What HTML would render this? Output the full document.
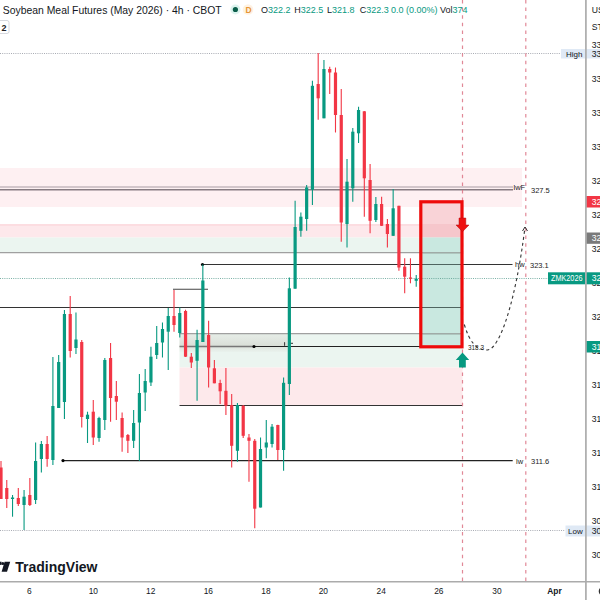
<!DOCTYPE html>
<html><head><meta charset="utf-8"><style>
html,body{margin:0;padding:0;background:#fff;width:600px;height:600px;overflow:hidden}
svg{display:block}
</style></head><body>
<svg width="600" height="600" viewBox="0 0 600 600">
<rect x="0" y="168" width="522" height="39" fill="#fef0f2"/>
<rect x="0" y="224" width="463" height="13.5" fill="#fde8eb"/>
<rect x="0" y="224" width="463" height="2" fill="#fcdde1"/>
<rect x="0" y="237.5" width="463" height="15.5" fill="#ebf5f0"/>
<rect x="179.5" y="334" width="283" height="33.5" fill="#ebf5f0"/>
<rect x="179.5" y="367.5" width="283" height="38" fill="#fde9eb"/>
<defs><linearGradient id="gb" x1="0" y1="0" x2="0" y2="1"><stop offset="0" stop-color="#d8d8d0" stop-opacity="0.3"/><stop offset="0.65" stop-color="#c8c8c0" stop-opacity="0.5"/><stop offset="1" stop-color="#d8d8d0" stop-opacity="0.1"/></linearGradient></defs>
<rect x="179.5" y="334" width="108" height="18" fill="url(#gb)"/>
<rect x="420.8" y="203" width="41.2" height="21" fill="#f9d3d7"/>
<rect x="420.8" y="224" width="41.2" height="13.5" fill="#f6c6cb"/>
<rect x="420.8" y="237.5" width="41.2" height="109" fill="#c9e8e0"/>
<line x1="0" y1="53.5" x2="561" y2="53.5" stroke="#a8abb3" stroke-width="1" stroke-dasharray="1 1.2"/>
<line x1="0" y1="530.5" x2="565" y2="530.5" stroke="#a8abb3" stroke-width="1" stroke-dasharray="1 1.2"/>
<line x1="0" y1="278.5" x2="586" y2="278.5" stroke="#5a9e90" stroke-width="1" stroke-dasharray="1 1.2" opacity="0.8"/>
<line x1="0" y1="187" x2="513" y2="187" stroke="#a89ca4" stroke-width="1"/>
<line x1="0" y1="189.7" x2="513" y2="189.7" stroke="#877b82" stroke-width="1.6"/>
<line x1="0" y1="252.6" x2="463" y2="252.6" stroke="#a0a0a0" stroke-width="1.2"/>
<line x1="202.5" y1="264.5" x2="512.5" y2="264.5" stroke="#333" stroke-width="1.2"/>
<line x1="173" y1="289.3" x2="208" y2="289.3" stroke="#444" stroke-width="1.1"/>
<line x1="0" y1="307.5" x2="462" y2="307.5" stroke="#333" stroke-width="1.2"/>
<line x1="179.5" y1="333.7" x2="462" y2="333.7" stroke="#a0a0a0" stroke-width="1.2"/>
<line x1="179.5" y1="346.5" x2="254" y2="346.5" stroke="#777" stroke-width="1.4"/>
<line x1="254" y1="346.5" x2="462" y2="346.5" stroke="#222" stroke-width="1.2"/>
<line x1="179.5" y1="405.5" x2="462" y2="405.5" stroke="#333" stroke-width="1.2"/>
<line x1="63" y1="460.6" x2="512.7" y2="460.6" stroke="#222" stroke-width="1.2"/>
<circle cx="202.5" cy="264.5" r="1.6" fill="#000"/>
<path d="M284.6 342.2 v3.6 M289.5 343.3 h3.5" stroke="#333" stroke-width="1" fill="none"/>
<circle cx="254" cy="346.5" r="1.6" fill="#000"/>
<circle cx="63" cy="460.6" r="1.6" fill="#000"/>
<line x1="422.4" y1="253" x2="460.4" y2="253" stroke="#9fb5ae" stroke-width="1.2"/>
<line x1="422.4" y1="264.5" x2="460.4" y2="264.5" stroke="#4f6560" stroke-width="1.2"/>
<line x1="422.4" y1="307.5" x2="460.4" y2="307.5" stroke="#4f6560" stroke-width="1.2"/>
<line x1="422.4" y1="334" x2="460.4" y2="334" stroke="#9fb5ae" stroke-width="1.2"/>
<line x1="1" y1="461" x2="1" y2="499" stroke="#f23645" stroke-width="1.1"/>
<rect x="-0.6" y="467.5" width="3.2" height="31.5" fill="#f23645"/>
<line x1="6.77" y1="480" x2="6.77" y2="508" stroke="#f23645" stroke-width="1.1"/>
<rect x="5.17" y="488" width="3.2" height="11" fill="#f23645"/>
<line x1="12.53" y1="495" x2="12.53" y2="516.7" stroke="#089981" stroke-width="1.1"/>
<rect x="10.93" y="497.5" width="3.2" height="1.5" fill="#089981"/>
<line x1="18.3" y1="488" x2="18.3" y2="506" stroke="#f23645" stroke-width="1.1"/>
<rect x="16.7" y="498" width="3.2" height="6" fill="#f23645"/>
<line x1="24.07" y1="490" x2="24.07" y2="530" stroke="#089981" stroke-width="1.1"/>
<rect x="22.47" y="496.7" width="3.2" height="8.3" fill="#089981"/>
<line x1="29.84" y1="478" x2="29.84" y2="506" stroke="#f23645" stroke-width="1.1"/>
<rect x="28.23" y="495" width="3.2" height="10" fill="#f23645"/>
<line x1="35.6" y1="442.5" x2="35.6" y2="504" stroke="#089981" stroke-width="1.1"/>
<rect x="34" y="461" width="3.2" height="39" fill="#089981"/>
<line x1="41.37" y1="441" x2="41.37" y2="472.5" stroke="#089981" stroke-width="1.1"/>
<rect x="39.77" y="444" width="3.2" height="15" fill="#089981"/>
<line x1="47.14" y1="436" x2="47.14" y2="466.7" stroke="#f23645" stroke-width="1.1"/>
<rect x="45.54" y="444" width="3.2" height="15" fill="#f23645"/>
<line x1="52.9" y1="357" x2="52.9" y2="465" stroke="#089981" stroke-width="1.1"/>
<rect x="51.3" y="406" width="3.2" height="54" fill="#089981"/>
<line x1="58.67" y1="355" x2="58.67" y2="408" stroke="#089981" stroke-width="1.1"/>
<rect x="57.07" y="362" width="3.2" height="46" fill="#089981"/>
<line x1="64.44" y1="310" x2="64.44" y2="419" stroke="#089981" stroke-width="1.1"/>
<rect x="62.84" y="314" width="3.2" height="88" fill="#089981"/>
<line x1="70.2" y1="296" x2="70.2" y2="357.5" stroke="#f23645" stroke-width="1.1"/>
<rect x="68.6" y="314" width="3.2" height="37" fill="#f23645"/>
<line x1="75.97" y1="312.5" x2="75.97" y2="354" stroke="#089981" stroke-width="1.1"/>
<rect x="74.37" y="339.5" width="3.2" height="8.5" fill="#089981"/>
<line x1="81.74" y1="340" x2="81.74" y2="427.5" stroke="#f23645" stroke-width="1.1"/>
<rect x="80.14" y="342" width="3.2" height="75" fill="#f23645"/>
<line x1="87.51" y1="411.7" x2="87.51" y2="443" stroke="#089981" stroke-width="1.1"/>
<rect x="85.91" y="414.7" width="3.2" height="4.3" fill="#089981"/>
<line x1="93.27" y1="400" x2="93.27" y2="445" stroke="#f23645" stroke-width="1.1"/>
<rect x="91.67" y="411.7" width="3.2" height="25.8" fill="#f23645"/>
<line x1="99.04" y1="416.7" x2="99.04" y2="441.7" stroke="#089981" stroke-width="1.1"/>
<rect x="97.44" y="418" width="3.2" height="20" fill="#089981"/>
<line x1="104.81" y1="358" x2="104.81" y2="430" stroke="#089981" stroke-width="1.1"/>
<rect x="103.21" y="360" width="3.2" height="60" fill="#089981"/>
<line x1="110.57" y1="343" x2="110.57" y2="421.7" stroke="#f23645" stroke-width="1.1"/>
<rect x="108.97" y="358" width="3.2" height="40" fill="#f23645"/>
<line x1="116.34" y1="381" x2="116.34" y2="420" stroke="#f23645" stroke-width="1.1"/>
<rect x="114.74" y="396" width="3.2" height="5.7" fill="#f23645"/>
<line x1="122.11" y1="412.5" x2="122.11" y2="451.7" stroke="#f23645" stroke-width="1.1"/>
<rect x="120.51" y="418" width="3.2" height="19.5" fill="#f23645"/>
<line x1="127.87" y1="434" x2="127.87" y2="453" stroke="#f23645" stroke-width="1.1"/>
<rect x="126.27" y="435" width="3.2" height="5.8" fill="#f23645"/>
<line x1="133.64" y1="410" x2="133.64" y2="448" stroke="#089981" stroke-width="1.1"/>
<rect x="132.04" y="423" width="3.2" height="17.8" fill="#089981"/>
<line x1="139.41" y1="374" x2="139.41" y2="461" stroke="#089981" stroke-width="1.1"/>
<rect x="137.81" y="393" width="3.2" height="29.5" fill="#089981"/>
<line x1="145.18" y1="369" x2="145.18" y2="411" stroke="#089981" stroke-width="1.1"/>
<rect x="143.58" y="381" width="3.2" height="11.5" fill="#089981"/>
<line x1="150.94" y1="346.7" x2="150.94" y2="386" stroke="#089981" stroke-width="1.1"/>
<rect x="149.34" y="356.7" width="3.2" height="25.8" fill="#089981"/>
<line x1="156.71" y1="326" x2="156.71" y2="359" stroke="#089981" stroke-width="1.1"/>
<rect x="155.11" y="343" width="3.2" height="12" fill="#089981"/>
<line x1="162.48" y1="322.5" x2="162.48" y2="357.5" stroke="#089981" stroke-width="1.1"/>
<rect x="160.88" y="329" width="3.2" height="13.5" fill="#089981"/>
<line x1="168.24" y1="308" x2="168.24" y2="370" stroke="#089981" stroke-width="1.1"/>
<rect x="166.64" y="316" width="3.2" height="15.7" fill="#089981"/>
<line x1="174.01" y1="290" x2="174.01" y2="331.7" stroke="#f23645" stroke-width="1.1"/>
<rect x="172.41" y="316" width="3.2" height="9" fill="#f23645"/>
<line x1="179.78" y1="307.5" x2="179.78" y2="337.5" stroke="#089981" stroke-width="1.1"/>
<rect x="178.18" y="313" width="3.2" height="20" fill="#089981"/>
<line x1="185.54" y1="309.7" x2="185.54" y2="357" stroke="#f23645" stroke-width="1.1"/>
<rect x="183.94" y="311" width="3.2" height="45.7" fill="#f23645"/>
<line x1="191.31" y1="353" x2="191.31" y2="368" stroke="#f23645" stroke-width="1.1"/>
<rect x="189.71" y="356.7" width="3.2" height="5.8" fill="#f23645"/>
<line x1="197.08" y1="329.7" x2="197.08" y2="400.8" stroke="#089981" stroke-width="1.1"/>
<rect x="195.48" y="340" width="3.2" height="20.8" fill="#089981"/>
<line x1="202.84" y1="264.5" x2="202.84" y2="342" stroke="#089981" stroke-width="1.1"/>
<rect x="201.25" y="280.5" width="3.2" height="61.5" fill="#089981"/>
<line x1="208.61" y1="320.8" x2="208.61" y2="387.5" stroke="#f23645" stroke-width="1.1"/>
<rect x="207.01" y="335" width="3.2" height="32.5" fill="#f23645"/>
<line x1="214.38" y1="360" x2="214.38" y2="383.3" stroke="#f23645" stroke-width="1.1"/>
<rect x="212.78" y="368.3" width="3.2" height="15" fill="#f23645"/>
<line x1="220.15" y1="379.7" x2="220.15" y2="404" stroke="#f23645" stroke-width="1.1"/>
<rect x="218.55" y="383" width="3.2" height="8.3" fill="#f23645"/>
<line x1="225.91" y1="368" x2="225.91" y2="415" stroke="#f23645" stroke-width="1.1"/>
<rect x="224.31" y="390.8" width="3.2" height="15" fill="#f23645"/>
<line x1="231.68" y1="394" x2="231.68" y2="467.5" stroke="#f23645" stroke-width="1.1"/>
<rect x="230.08" y="405" width="3.2" height="40.8" fill="#f23645"/>
<line x1="237.45" y1="403" x2="237.45" y2="461.7" stroke="#089981" stroke-width="1.1"/>
<rect x="235.85" y="405" width="3.2" height="45.8" fill="#089981"/>
<line x1="243.21" y1="405" x2="243.21" y2="438" stroke="#f23645" stroke-width="1.1"/>
<rect x="241.61" y="405.8" width="3.2" height="30" fill="#f23645"/>
<line x1="248.98" y1="434" x2="248.98" y2="481.7" stroke="#f23645" stroke-width="1.1"/>
<rect x="247.38" y="437.5" width="3.2" height="3.3" fill="#f23645"/>
<line x1="254.75" y1="439" x2="254.75" y2="528.3" stroke="#f23645" stroke-width="1.1"/>
<rect x="253.15" y="440.8" width="3.2" height="67.9" fill="#f23645"/>
<line x1="260.52" y1="437.5" x2="260.52" y2="507.5" stroke="#089981" stroke-width="1.1"/>
<rect x="258.92" y="449" width="3.2" height="58.5" fill="#089981"/>
<line x1="266.28" y1="420" x2="266.28" y2="458.3" stroke="#089981" stroke-width="1.1"/>
<rect x="264.68" y="442.5" width="3.2" height="5" fill="#089981"/>
<line x1="272.05" y1="424" x2="272.05" y2="447.5" stroke="#089981" stroke-width="1.1"/>
<rect x="270.45" y="426.7" width="3.2" height="17.3" fill="#089981"/>
<line x1="277.82" y1="424.7" x2="277.82" y2="460" stroke="#f23645" stroke-width="1.1"/>
<rect x="276.22" y="425" width="3.2" height="25" fill="#f23645"/>
<line x1="283.58" y1="377.5" x2="283.58" y2="470.8" stroke="#089981" stroke-width="1.1"/>
<rect x="281.98" y="382.8" width="3.2" height="67.2" fill="#089981"/>
<line x1="289.35" y1="277.5" x2="289.35" y2="395" stroke="#089981" stroke-width="1.1"/>
<rect x="287.75" y="288.3" width="3.2" height="95.7" fill="#089981"/>
<line x1="295.12" y1="200.8" x2="295.12" y2="288.7" stroke="#089981" stroke-width="1.1"/>
<rect x="293.52" y="227" width="3.2" height="61.7" fill="#089981"/>
<line x1="300.88" y1="212.5" x2="300.88" y2="236.7" stroke="#089981" stroke-width="1.1"/>
<rect x="299.28" y="216.7" width="3.2" height="14.1" fill="#089981"/>
<line x1="306.65" y1="185" x2="306.65" y2="230.8" stroke="#089981" stroke-width="1.1"/>
<rect x="305.05" y="187.5" width="3.2" height="31.5" fill="#089981"/>
<line x1="312.42" y1="80.8" x2="312.42" y2="205" stroke="#089981" stroke-width="1.1"/>
<rect x="310.82" y="85.8" width="3.2" height="103.9" fill="#089981"/>
<line x1="318.19" y1="53" x2="318.19" y2="119.7" stroke="#f23645" stroke-width="1.1"/>
<rect x="316.58" y="84" width="3.2" height="14.3" fill="#f23645"/>
<line x1="323.95" y1="60" x2="323.95" y2="118.3" stroke="#089981" stroke-width="1.1"/>
<rect x="322.35" y="69" width="3.2" height="49.3" fill="#089981"/>
<line x1="329.72" y1="66.7" x2="329.72" y2="94" stroke="#f23645" stroke-width="1.1"/>
<rect x="328.12" y="69" width="3.2" height="3.5" fill="#f23645"/>
<line x1="335.49" y1="67.5" x2="335.49" y2="132.5" stroke="#f23645" stroke-width="1.1"/>
<rect x="333.89" y="72.5" width="3.2" height="42.5" fill="#f23645"/>
<line x1="341.25" y1="89" x2="341.25" y2="241.7" stroke="#f23645" stroke-width="1.1"/>
<rect x="339.65" y="115" width="3.2" height="107.5" fill="#f23645"/>
<line x1="347.02" y1="159" x2="347.02" y2="247.5" stroke="#089981" stroke-width="1.1"/>
<rect x="345.42" y="181.7" width="3.2" height="42.3" fill="#089981"/>
<line x1="352.79" y1="128" x2="352.79" y2="201.7" stroke="#089981" stroke-width="1.1"/>
<rect x="351.19" y="131.7" width="3.2" height="56.6" fill="#089981"/>
<line x1="358.55" y1="106.7" x2="358.55" y2="143" stroke="#089981" stroke-width="1.1"/>
<rect x="356.95" y="110" width="3.2" height="23.3" fill="#089981"/>
<line x1="364.32" y1="111" x2="364.32" y2="216.7" stroke="#f23645" stroke-width="1.1"/>
<rect x="362.72" y="111.3" width="3.2" height="67" fill="#f23645"/>
<line x1="370.09" y1="164" x2="370.09" y2="233.3" stroke="#f23645" stroke-width="1.1"/>
<rect x="368.49" y="180" width="3.2" height="40.8" fill="#f23645"/>
<line x1="375.86" y1="197" x2="375.86" y2="222" stroke="#089981" stroke-width="1.1"/>
<rect x="374.25" y="204" width="3.2" height="16" fill="#089981"/>
<line x1="381.62" y1="196.7" x2="381.62" y2="226" stroke="#f23645" stroke-width="1.1"/>
<rect x="380.02" y="204" width="3.2" height="21.8" fill="#f23645"/>
<line x1="387.39" y1="219" x2="387.39" y2="247.5" stroke="#f23645" stroke-width="1.1"/>
<rect x="385.79" y="224" width="3.2" height="10" fill="#f23645"/>
<line x1="393.16" y1="189" x2="393.16" y2="236" stroke="#089981" stroke-width="1.1"/>
<rect x="391.56" y="208.3" width="3.2" height="27.5" fill="#089981"/>
<line x1="398.92" y1="205.8" x2="398.92" y2="270.8" stroke="#f23645" stroke-width="1.1"/>
<rect x="397.32" y="205.8" width="3.2" height="61.7" fill="#f23645"/>
<line x1="404.69" y1="258.3" x2="404.69" y2="293.3" stroke="#f23645" stroke-width="1.1"/>
<rect x="403.09" y="266.7" width="3.2" height="10" fill="#f23645"/>
<line x1="410.46" y1="258.3" x2="410.46" y2="283.3" stroke="#f23645" stroke-width="1.1"/>
<rect x="408.86" y="277.5" width="3.2" height="1.2" fill="#f23645"/>
<line x1="416.22" y1="275" x2="416.22" y2="286.7" stroke="#089981" stroke-width="1.1"/>
<rect x="414.62" y="278.7" width="3.2" height="2.1" fill="#089981"/>
<line x1="462.5" y1="0" x2="462.5" y2="581" stroke="#dc7485" stroke-width="1.2" stroke-dasharray="3.5 4.1" opacity="0.85"/>
<line x1="525.8" y1="0" x2="525.8" y2="581" stroke="#dc7485" stroke-width="1.2" stroke-dasharray="3.5 4.1" opacity="0.85"/>
<rect x="420.8" y="201.8" width="41.2" height="145" fill="none" stroke="#ee0a0a" stroke-width="3.2"/>
<path d="M459 218 h6.8 v7 h3.2 l-6.5 6.7 l-6.5 -6.7 h3 z" fill="#ee1111" stroke="#b01010" stroke-width="0.5"/>
<path d="M462.5 352.5 l6.7 7.5 h-3.4 v7.5 h-6.8 v-7.5 h-3.2 z" fill="#089981"/>
<path d="M464.3 324.5 Q 472 351 487.5 350 C 500 349 516 300 525 227" fill="none" stroke="#333" stroke-width="1.1" stroke-dasharray="3 3"/>
<path d="M522.5 231 L525 227 L527.5 231" fill="none" stroke="#333" stroke-width="1"/>
<text x="513.5" y="190" font-size="7.5" font-family="'Liberation Sans', Arial, sans-serif" fill="#222">lwF</text>
<text x="531" y="192.5" font-size="7.5" font-family="'Liberation Sans', Arial, sans-serif" fill="#222">327.5</text>
<text x="515" y="267" font-size="7.5" font-family="'Liberation Sans', Arial, sans-serif" fill="#222">hw</text>
<text x="530" y="267.5" font-size="7.5" font-family="'Liberation Sans', Arial, sans-serif" fill="#222">323.1</text>
<text x="516" y="463.5" font-size="7.5" font-family="'Liberation Sans', Arial, sans-serif" fill="#222">lw</text>
<text x="531" y="464" font-size="7.5" font-family="'Liberation Sans', Arial, sans-serif" fill="#222">311.6</text>
<text x="468" y="350.2" font-size="7.5" font-family="'Liberation Sans', Arial, sans-serif" fill="#222" textLength="16" lengthAdjust="spacingAndGlyphs">318.3</text>
<rect x="561" y="49" width="39" height="9.5" fill="#dfe9f5"/>
<text x="566" y="56.5" font-size="8" font-family="'Liberation Sans', Arial, sans-serif" fill="#131722">High</text>
<rect x="565.5" y="525.5" width="34.5" height="11" fill="#dfe9f5"/>
<text x="568" y="534" font-size="8" font-family="'Liberation Sans', Arial, sans-serif" fill="#131722">Low</text>
<rect x="586" y="0" width="14" height="600" fill="#fff"/>
<rect x="586" y="49" width="14" height="9.5" fill="#dfe9f5"/>
<rect x="586" y="525.5" width="14" height="11" fill="#dfe9f5"/>
<text x="591.8" y="48.1" font-size="8.6" font-family="'Liberation Sans', Arial, sans-serif" fill="#131722">336.0</text>
<text x="591.8" y="82.1" font-size="8.6" font-family="'Liberation Sans', Arial, sans-serif" fill="#131722">334.0</text>
<text x="591.8" y="116.1" font-size="8.6" font-family="'Liberation Sans', Arial, sans-serif" fill="#131722">332.0</text>
<text x="591.8" y="150.1" font-size="8.6" font-family="'Liberation Sans', Arial, sans-serif" fill="#131722">330.0</text>
<text x="591.8" y="184.1" font-size="8.6" font-family="'Liberation Sans', Arial, sans-serif" fill="#131722">328.0</text>
<text x="591.8" y="218.1" font-size="8.6" font-family="'Liberation Sans', Arial, sans-serif" fill="#131722">326.0</text>
<text x="591.8" y="252.1" font-size="8.6" font-family="'Liberation Sans', Arial, sans-serif" fill="#131722">324.0</text>
<text x="591.8" y="286.1" font-size="8.6" font-family="'Liberation Sans', Arial, sans-serif" fill="#131722">322.0</text>
<text x="591.8" y="320.1" font-size="8.6" font-family="'Liberation Sans', Arial, sans-serif" fill="#131722">320.0</text>
<text x="591.8" y="354.1" font-size="8.6" font-family="'Liberation Sans', Arial, sans-serif" fill="#131722">318.0</text>
<text x="591.8" y="388.1" font-size="8.6" font-family="'Liberation Sans', Arial, sans-serif" fill="#131722">316.0</text>
<text x="591.8" y="422.1" font-size="8.6" font-family="'Liberation Sans', Arial, sans-serif" fill="#131722">314.0</text>
<text x="591.8" y="456.1" font-size="8.6" font-family="'Liberation Sans', Arial, sans-serif" fill="#131722">312.0</text>
<text x="591.8" y="490.1" font-size="8.6" font-family="'Liberation Sans', Arial, sans-serif" fill="#131722">310.0</text>
<text x="591.8" y="524.1" font-size="8.6" font-family="'Liberation Sans', Arial, sans-serif" fill="#131722">308.0</text>
<text x="591.8" y="558.1" font-size="8.6" font-family="'Liberation Sans', Arial, sans-serif" fill="#131722">306.0</text>
<text x="591.8" y="13.1" font-size="8.6" font-family="'Liberation Sans', Arial, sans-serif" fill="#131722">USD</text>
<text x="591.8" y="30.1" font-size="8.6" font-family="'Liberation Sans', Arial, sans-serif" fill="#131722">STD</text>
<text x="591.8" y="56.6" font-size="8.6" font-family="'Liberation Sans', Arial, sans-serif" fill="#131722">335.5</text>
<text x="591.8" y="534.1" font-size="8.6" font-family="'Liberation Sans', Arial, sans-serif" fill="#131722">307.5</text>
<rect x="586" y="196" width="14" height="11.5" fill="#f23645"/>
<text x="591.8" y="204.8" font-size="8.6" font-family="'Liberation Sans', Arial, sans-serif" fill="#fff">326.8</text>
<rect x="586" y="232.5" width="14" height="11.3" fill="#7a7a7a"/>
<text x="591.8" y="241.3" font-size="8.6" font-family="'Liberation Sans', Arial, sans-serif" fill="#fff">324.8</text>
<rect x="548" y="272.3" width="52" height="12" fill="#089981"/>
<text x="551" y="281.4" font-size="8.6" font-family="'Liberation Sans', Arial, sans-serif" fill="#fff" textLength="31.5" lengthAdjust="spacingAndGlyphs">ZMK2026</text>
<text x="591.8" y="281.4" font-size="8.6" font-family="'Liberation Sans', Arial, sans-serif" fill="#fff">322.3</text>
<rect x="586" y="341" width="14" height="11.5" fill="#089981"/>
<text x="591.8" y="349.9" font-size="8.6" font-family="'Liberation Sans', Arial, sans-serif" fill="#fff">318.3</text>
<line x1="585.9" y1="0" x2="585.9" y2="600" stroke="#b0b0b0" stroke-width="1.8"/>
<circle cx="603.5" cy="591.2" r="4" fill="none" stroke="#333" stroke-width="1.6"/>
<line x1="0" y1="581.7" x2="600" y2="581.7" stroke="#ababab" stroke-width="1.6"/>
<text x="29.3" y="594.2" font-size="8.4" font-family="'Liberation Sans', Arial, sans-serif" fill="#131722" text-anchor="middle">6</text>
<text x="93.3" y="594.2" font-size="8.4" font-family="'Liberation Sans', Arial, sans-serif" fill="#131722" text-anchor="middle">10</text>
<text x="150.7" y="594.2" font-size="8.4" font-family="'Liberation Sans', Arial, sans-serif" fill="#131722" text-anchor="middle">12</text>
<text x="208.3" y="594.2" font-size="8.4" font-family="'Liberation Sans', Arial, sans-serif" fill="#131722" text-anchor="middle">16</text>
<text x="266" y="594.2" font-size="8.4" font-family="'Liberation Sans', Arial, sans-serif" fill="#131722" text-anchor="middle">18</text>
<text x="323.3" y="594.2" font-size="8.4" font-family="'Liberation Sans', Arial, sans-serif" fill="#131722" text-anchor="middle">20</text>
<text x="381.2" y="594.2" font-size="8.4" font-family="'Liberation Sans', Arial, sans-serif" fill="#131722" text-anchor="middle">24</text>
<text x="438.8" y="594.2" font-size="8.4" font-family="'Liberation Sans', Arial, sans-serif" fill="#131722" text-anchor="middle">26</text>
<text x="496.9" y="594.2" font-size="8.4" font-family="'Liberation Sans', Arial, sans-serif" fill="#131722" text-anchor="middle">30</text>
<text x="554.5" y="594.2" font-size="8.4" font-weight="bold" font-family="'Liberation Sans', Arial, sans-serif" fill="#131722" text-anchor="middle">Apr</text>
<text x="2.8" y="14" font-size="10.4" font-family="'Liberation Sans', Arial, sans-serif" fill="#131722">Soybean Meal Futures (May 2026) · 4h · CBOT</text>
<circle cx="235.4" cy="9.5" r="5" fill="#dcf3ee"/>
<circle cx="235.4" cy="9.5" r="2.6" fill="#0b5e4a"/>
<circle cx="248" cy="9.5" r="5.3" fill="#fff2e2"/>
<text x="245.4" y="12.8" font-size="8.5" font-weight="bold" font-family="'Liberation Sans', Arial, sans-serif" fill="#e69538">D</text>
<text x="261" y="13.4" font-size="9" font-family="'Liberation Sans', Arial, sans-serif" fill="#089981"><tspan fill="#131722">O</tspan>322.2</text>
<text x="294.3" y="13.4" font-size="9" font-family="'Liberation Sans', Arial, sans-serif" fill="#089981"><tspan fill="#131722">H</tspan>322.5</text>
<text x="327" y="13.4" font-size="9" font-family="'Liberation Sans', Arial, sans-serif" fill="#089981"><tspan fill="#131722">L</tspan>321.8</text>
<text x="359.8" y="13.4" font-size="9" font-family="'Liberation Sans', Arial, sans-serif" fill="#089981"><tspan fill="#131722">C</tspan>322.3</text>
<text x="390.9" y="13.4" font-size="9" font-family="'Liberation Sans', Arial, sans-serif" fill="#089981">0.0 (0.00%)</text>
<text x="439.9" y="13.4" font-size="9" font-family="'Liberation Sans', Arial, sans-serif" fill="#089981"><tspan fill="#131722">Vol</tspan>374</text>
<rect x="-2" y="20.5" width="11" height="13" rx="2" fill="#fff" stroke="#d6d8de" stroke-width="1"/>
<text x="1.6" y="30.8" font-size="9" font-weight="bold" font-family="'Liberation Sans', Arial, sans-serif" fill="#222">2</text>
<rect x="-4" y="561.7" width="5.5" height="3.2" fill="#131722"/>
<circle cx="2.8" cy="563.5" r="1.5" fill="#131722"/>
<path d="M4.6 561.7 L10.2 561.7 L7 571.7 L1.6 571.7 Z" fill="#131722"/>
<text x="15.3" y="571.7" font-size="14" font-weight="bold" font-family="'Liberation Sans', Arial, sans-serif" fill="#131722">TradingView</text>
</svg>
</body></html>
